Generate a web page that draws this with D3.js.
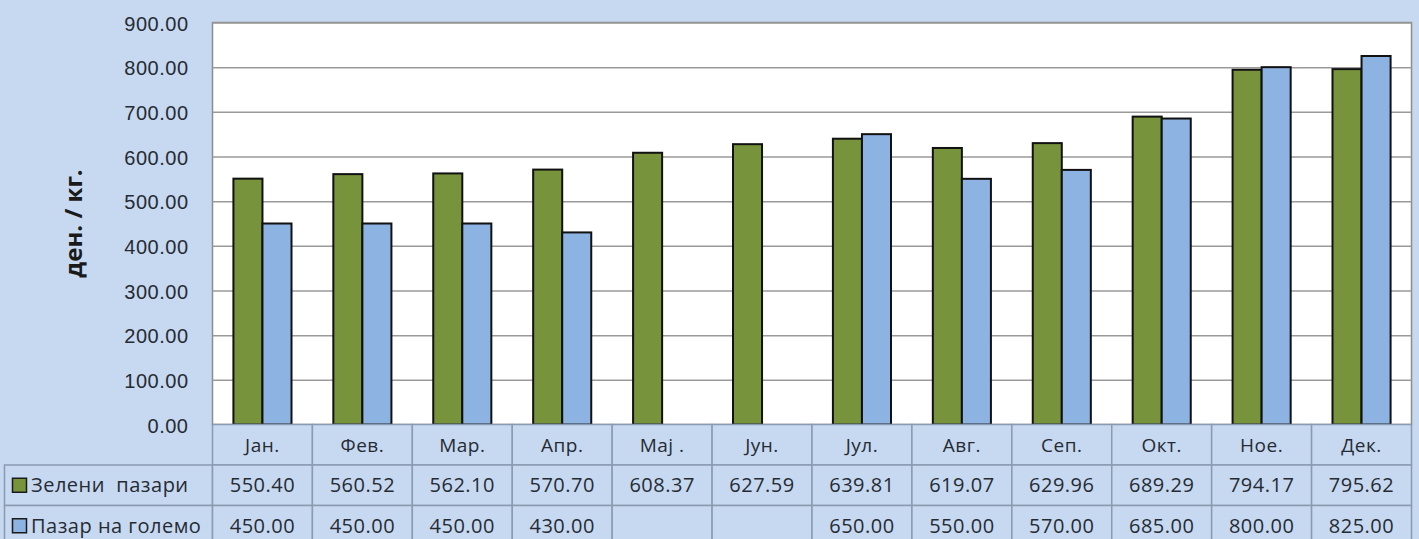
<!DOCTYPE html>
<html>
<head>
<meta charset="utf-8">
<script src="https://cdn.jsdelivr.net/npm/d3@7"></script>
<style>
  body { margin: 0; background: #c6d9f1; }
  svg { display: block; font-family: "Open Sans", sans-serif; }
</style>
</head>
<body>
<div id="chart"></div>
<script>
const months = ["Јан.", "Фев.", "Мар.", "Апр.", "Мај .", "Јун.", "Јул.", "Авг.", "Сеп.", "Окт.", "Ное.", "Дек."];
const seriesNames = ["Зелени  пазари", "Пазар на големо"];
const greenMarkets = [550.40, 560.52, 562.10, 570.70, 608.37, 627.59, 639.81, 619.07, 629.96, 689.29, 794.17, 795.62];
const wholesale = [450.00, 450.00, 450.00, 430.00, null, null, 650.00, 550.00, 570.00, 685.00, 800.00, 825.00];
const yTicks = [0, 100, 200, 300, 400, 500, 600, 700, 800, 900];
const colors = ["#77933c", "#8db3e2"];

const W = 1419, H = 539;
const plot = {left: 212.5, right: 1411.5, top: 22.5, bottom: 424.5};
const rowH = 40.5;
const labelLeft = 4.5;

const svg = d3.select("#chart").append("svg")
    .attr("width", W)
    .attr("height", H);

svg.append("rect").attr("width", W).attr("height", H).attr("fill", "#c6d9f1");

const x = d3.scaleBand().domain(months).range([plot.left, plot.right]);
const x1 = d3.scaleBand().domain(seriesNames).range([0, x.bandwidth()]).paddingInner(0).paddingOuter(0.72);
const y = d3.scaleLinear().domain([0, 900]).range([plot.bottom, plot.top]);

// plot area
svg.append("rect")
    .attr("x", plot.left).attr("y", plot.top)
    .attr("width", plot.right - plot.left).attr("height", plot.bottom - plot.top)
    .attr("fill", "#ffffff")
    .attr("stroke", "#8c8c8c").attr("stroke-width", 1.5);

// y axis with gridlines
const yAxis = svg.append("g")
    .attr("class", "y-axis")
    .attr("transform", "translate(" + plot.left + ",0)")
    .call(d3.axisLeft(y)
        .tickValues(yTicks)
        .tickSize(-(plot.right - plot.left))
        .tickSizeOuter(0)
        .tickPadding(24)
        .tickFormat(function(d){ return d.toFixed(2); }));
yAxis.select(".domain").remove();
yAxis.selectAll(".tick line").attr("stroke", "#9a9a9a").attr("stroke-width", 1.5);
yAxis.selectAll(".tick text")
    .attr("fill", "#262b33")
    .attr("dy", "0.38em")
    .style("font-size", "20px")
    .style("letter-spacing", "0.5px");

// y title
svg.append("text")
    .attr("transform", "translate(82," + ((plot.top + plot.bottom) / 2) + ") rotate(-90)")
    .attr("text-anchor", "middle")
    .style("font-size", "24px")
    .style("font-weight", "bold")
    .attr("fill", "#1a1a1a")
    .text("ден. / кг.");

// bars
const data = months.map(function(m, i){
    return {month: m, values: [
        {name: seriesNames[0], value: greenMarkets[i], color: colors[0]},
        {name: seriesNames[1], value: wholesale[i], color: colors[1]}
    ]};
});

const groups = svg.selectAll(".month")
    .data(data)
    .enter().append("g")
    .attr("class", "month")
    .attr("transform", function(d){ return "translate(" + x(d.month) + ",0)"; });

groups.selectAll("rect")
    .data(function(d){ return d.values.filter(function(v){ return v.value !== null; }); })
    .enter().append("rect")
    .attr("x", function(d){ return x1(d.name); })
    .attr("width", x1.bandwidth())
    .attr("y", function(d){ return y(d.value); })
    .attr("height", function(d){ return y(0) - y(d.value); })
    .attr("fill", function(d){ return d.color; })
    .attr("stroke", "#111")
    .attr("stroke-width", 2);

// data table
const table = svg.append("g").attr("class", "table");
const cellStroke = "#8a9bb0";
const textFill = "#262b33";

// header row
table.selectAll(".head-cell")
    .data(months)
    .enter().append("rect")
    .attr("class", "head-cell")
    .attr("x", function(d){ return x(d); })
    .attr("y", plot.bottom)
    .attr("width", x.bandwidth())
    .attr("height", rowH)
    .attr("fill", "#c6d9f1")
    .attr("stroke", cellStroke).attr("stroke-width", 1.5);

table.selectAll(".head-text")
    .data(months)
    .enter().append("text")
    .attr("class", "head-text")
    .attr("x", function(d){ return x(d) + x.bandwidth() / 2; })
    .attr("y", plot.bottom + rowH / 2)
    .attr("dy", "0.36em")
    .attr("text-anchor", "middle")
    .style("font-size", "19px")
    .style("letter-spacing", "0.5px")
    .attr("fill", textFill)
    .text(function(d){ return d; });

const rows = [greenMarkets, wholesale];
rows.forEach(function(vals, r){
    const top = plot.bottom + rowH * (r + 1);

    table.append("rect")
        .attr("x", labelLeft).attr("y", top)
        .attr("width", plot.left - labelLeft).attr("height", rowH)
        .attr("fill", "#c6d9f1")
        .attr("stroke", cellStroke).attr("stroke-width", 1.5);

    table.append("rect")
        .attr("x", 12.5).attr("y", top + rowH / 2 - 7)
        .attr("width", 14).attr("height", 14)
        .attr("fill", colors[r])
        .attr("stroke", "#1a1a1a").attr("stroke-width", 1.5);

    table.append("text")
        .attr("x", 31)
        .attr("y", top + rowH / 2)
        .attr("dy", "0.36em")
        .style("font-size", "20px")
        .style("letter-spacing", "0.5px")
        .style("white-space", "pre")
        .attr("fill", textFill)
        .text(seriesNames[r]);

    table.selectAll(".cell-" + r)
        .data(months)
        .enter().append("rect")
        .attr("class", "cell-" + r)
        .attr("x", function(d){ return x(d); })
        .attr("y", top)
        .attr("width", x.bandwidth())
        .attr("height", rowH)
        .attr("fill", "#c6d9f1")
        .attr("stroke", cellStroke).attr("stroke-width", 1.5);

    table.selectAll(".val-" + r)
        .data(vals)
        .enter().append("text")
        .attr("class", "val-" + r)
        .attr("x", function(d, i){ return x(months[i]) + x.bandwidth() / 2; })
        .attr("y", top + rowH / 2)
        .attr("dy", "0.36em")
        .attr("text-anchor", "middle")
        .style("font-size", "20px")
        .style("letter-spacing", "0.5px")
        .attr("fill", textFill)
        .text(function(d){ return d === null ? "" : d.toFixed(2); });
});
</script>
</body>
</html>
